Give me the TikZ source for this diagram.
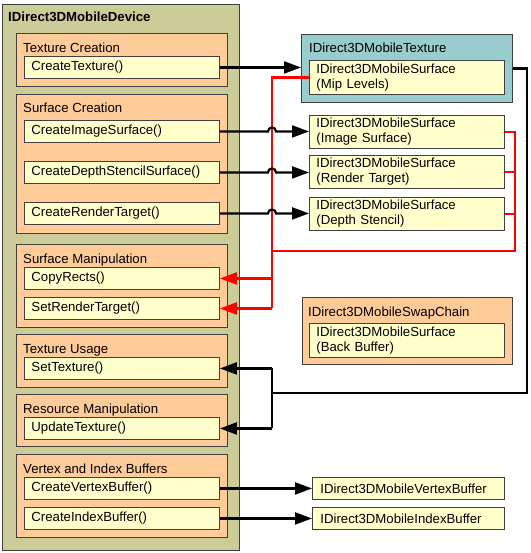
\documentclass[tikz,border=0pt]{standalone}
\usepackage{fontspec}
\setmainfont{Liberation Sans}
\usetikzlibrary{shapes,arrows,arrows.meta,calc,positioning}
\definecolor{devfill}{HTML}{CCCC99}
\definecolor{grpfill}{HTML}{FFCC99}
\definecolor{btnfill}{HTML}{FFFFCC}
\definecolor{texfill}{HTML}{99CCCC}
\definecolor{edgegray}{HTML}{404040}
\tikzset{
  box/.style={draw=edgegray,line width=0.9pt,anchor=north west,inner sep=0pt},
  dev/.style={box,fill=devfill,minimum width=237pt,minimum height=546pt},
  grp/.style={box,fill=grpfill,minimum width=211pt},
  btn/.style={box,fill=btnfill,text width=181pt,inner xsep=7pt,minimum height=22pt,align=left},
  surf/.style={box,fill=btnfill,text width=181pt,inner xsep=7pt,minimum height=33pt,align=left},
  ttl/.style={anchor=base west,inner sep=0pt},
  blk/.style={line width=2.2pt,black},
  redl/.style={line width=2.2pt,red},
  tip/.style={-{Triangle[length=17pt,width=12pt]}}
}
\begin{document}
\begin{tikzpicture}[x=1pt,y=-1pt,font=\fontsize{13.2}{15}\selectfont]
\useasboundingbox (0,0) rectangle (530,553);
\node[dev] (device) at (2,4) {};
\node[ttl,font=\fontsize{13.2}{15}\selectfont\bfseries] (devtitle) at (8,22) {IDirect3DMobileDevice};

\node[grp,minimum height=53pt] (texcreate) at (16,33) {};
\node[ttl] (texcreatet) at (23,53) {Texture Creation};
\node[btn] (createtex) at (24,56) {CreateTexture()};

\node[grp,minimum height=139pt] (surfcreate) at (16,94) {};
\node[ttl] (surfcreatet) at (23,113) {Surface Creation};
\node[btn] (createimg) at (24,120) {CreateImageSurface()};
\node[btn] (createds) at (24,161) {CreateDepthStencilSurface()};
\node[btn] (creatert) at (24,202) {CreateRenderTarget()};

\node[grp,minimum height=83pt] (surfmanip) at (16,244) {};
\node[ttl] (surfmanipt) at (23,263) {Surface Manipulation};
\node[btn] (copyrects) at (24,267) {CopyRects()};
\node[btn] (setrt) at (24,297) {SetRenderTarget()};

\node[grp,minimum height=53pt] (texuse) at (16,334) {};
\node[ttl] (texuset) at (23,353) {Texture Usage};
\node[btn] (settex) at (24,357) {SetTexture()};

\node[grp,minimum height=52pt] (resmanip) at (16,394) {};
\node[ttl] (resmanipt) at (23,413) {Resource Manipulation};
\node[btn] (updtex) at (24,417) {UpdateTexture()};

\node[grp,minimum height=83pt] (buffers) at (16,454) {};
\node[ttl] (bufferst) at (23,473) {Vertex and Index Buffers};
\node[btn] (createvb) at (24,477) {CreateVertexBuffer()};
\node[btn] (createib) at (24,507) {CreateIndexBuffer()};

\node[box,fill=texfill,minimum width=211pt,minimum height=68pt] (texture) at (301,34) {};
\node[ttl] (texturet) at (309,53) {IDirect3DMobileTexture};
\node[surf,minimum height=34pt] (mip) at (309,60) {IDirect3DMobileSurface\\(Mip Levels)};
\node[surf] (imgsurf) at (309,115) {IDirect3DMobileSurface\\(Image Surface)};
\node[surf] (rtsurf) at (309,155) {IDirect3DMobileSurface\\(Render Target)};
\node[surf] (dssurf) at (309,197) {IDirect3DMobileSurface\\(Depth Stencil)};

\node[box,fill=grpfill,minimum width=210pt,minimum height=67pt] (swap) at (302,297) {};
\node[ttl] (swapt) at (308,316) {IDirect3DMobileSwapChain};
\node[surf,minimum height=34pt] (back) at (309,323) {IDirect3DMobileSurface\\(Back Buffer)};

\node[box,fill=btnfill,text width=176pt,inner xsep=8pt,minimum height=22pt,align=left] (vbuf) at (312,477) {IDirect3DMobileVertexBuffer};
\node[box,fill=btnfill,text width=176pt,inner xsep=8pt,minimum height=22pt,align=left] (ibuf) at (312,507) {IDirect3DMobileIndexBuffer};

\coordinate (rx) at (272,0);
\coordinate (rrx) at (515,0);
\coordinate (bx) at (527,0);
\coordinate (ry) at (0,251);
\coordinate (by) at (0,393);

\draw[redl] (mip.west) -- (rx |- mip.west) -- (rx |- setrt.east);
\draw[redl,tip] (rx |- setrt.east) -- (setrt.east);
\draw[redl,tip] (rx |- copyrects.east) -- (copyrects.east);
\draw[redl] (rx |- ry) -- (rrx |- ry) -- (rrx |- imgsurf.east) -- (imgsurf.east);
\draw[redl] (rtsurf.east) -- (rtsurf.east -| rrx);
\draw[redl] (dssurf.east) -- (dssurf.east -| rrx);

\draw[blk,tip] (createtex.east) -- (createtex.east -| texture.west);
\draw[blk,tip] (createimg.east) -- ($(createimg.east -| rx)+(-4,0)$) arc[start angle=180,end angle=0,radius=4pt] -- (createimg.east -| imgsurf.west);
\draw[blk,tip] (createds.east) -- ($(createds.east -| rx)+(-4,0)$) arc[start angle=180,end angle=0,radius=4pt] -- (createds.east -| rtsurf.west);
\draw[blk,tip] (creatert.east) -- ($(creatert.east -| rx)+(-4,0)$) arc[start angle=180,end angle=0,radius=4pt] -- (creatert.east -| dssurf.west);

\draw[blk] (texture.east) -- (texture.east -| bx) -- (bx |- by) -- (rx |- by);
\draw[blk] (rx |- settex.east) -- (rx |- updtex.east);
\draw[blk,tip] (rx |- settex.east) -- (settex.east);
\draw[blk,tip] (rx |- updtex.east) -- (updtex.east);

\draw[blk,tip] (createvb.east) -- (vbuf.west);
\draw[blk,tip] (createib.east) -- (ibuf.west);
\end{tikzpicture}
\end{document}
